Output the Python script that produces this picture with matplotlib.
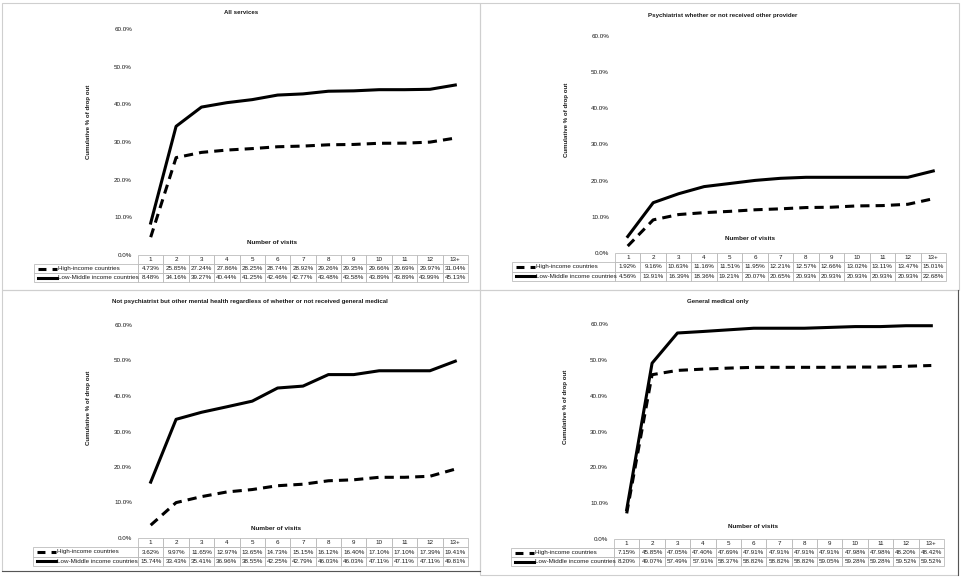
import matplotlib
matplotlib.use('Agg')
import matplotlib.pyplot as plt
from matplotlib.patches import Rectangle

plt.rcParams['font.family'] = ['Liberation Sans', 'DejaVu Sans']

W, H = 963, 578

visits = ['1', '2', '3', '4', '5', '6', '7', '8', '9', '10', '11', '12', '13+']
series_names = ['High-income countries', 'Low-Middle income countries']
yticks = [0, 10, 20, 30, 40, 50, 60]

# cumulative % of drop out
all_high = [4.73, 25.85, 27.24, 27.86, 28.25, 28.74, 28.92, 29.26, 29.35, 29.66, 29.69, 29.97, 31.04]
all_low = [8.48, 34.16, 39.27, 40.44, 41.25, 42.46, 42.77, 43.48, 43.58, 43.89, 43.89, 43.99, 45.13]
psy_high = [1.92, 9.16, 10.63, 11.16, 11.51, 11.95, 12.21, 12.57, 12.66, 13.02, 13.11, 13.47, 15.01]
psy_low = [4.56, 13.91, 16.39, 18.36, 19.21, 20.07, 20.65, 20.93, 20.93, 20.93, 20.93, 20.93, 22.68]
oth_high = [3.62, 9.97, 11.65, 12.97, 13.65, 14.73, 15.15, 16.12, 16.40, 17.10, 17.10, 17.39, 19.41]
oth_low = [15.74, 33.43, 35.41, 36.96, 38.55, 42.25, 42.79, 46.03, 46.03, 47.11, 47.11, 47.11, 49.81]
gen_high = [7.15, 45.85, 47.05, 47.40, 47.69, 47.91, 47.91, 47.91, 47.91, 47.98, 47.98, 48.20, 48.42]
gen_low = [8.20, 49.07, 57.49, 57.91, 58.37, 58.82, 58.82, 58.82, 59.05, 59.28, 59.28, 59.52, 59.52]

titles = ['All services',
          'Psychiatrist whether or not received other provider',
          'Not psychiatrist but other mental health regardless of whether or not received general medical',
          'General medical only']

TXT = '#1a1a1a'
GRID = '#bdbdbd'
FS = 4.5

fig = plt.figure(figsize=(W / 100, H / 100), dpi=100)


def fx(px):
    return px / W


def fy(py):
    return 1 - py / H


# panel frames (pixel boxes)
for (x0, y0, x1, y1) in [(2, 3, 480, 290), (480, 3, 959, 290), (2, 290, 480, 571), (480, 290, 958, 575)]:
    fig.add_artist(Rectangle((fx(x0), fy(y1)), fx(x1 - x0), (y1 - y0) / H, transform=fig.transFigure,
                             fill=False, edgecolor='#cfcfcf', linewidth=0.8))
fig.add_artist(plt.Line2D([fx(2), fx(480)], [fy(571), fy(571)], transform=fig.transFigure, color='#555555', lw=0.8))
fig.add_artist(plt.Line2D([fx(958), fx(958)], [fy(290), fy(575)], transform=fig.transFigure, color='#555555', lw=0.8))


def panel(g, title, high, low):
    Lx, Dx, Ex, Ty, By, Tb = g['box']
    ax = fig.add_axes([fx(Dx), fy(By), fx(Ex - Dx), (By - Ty) / H])
    x = list(range(len(visits)))
    ax.plot(x, high, color='black', lw=2.2, dashes=(3, 2), solid_capstyle='butt')
    ax.plot(x, low, color='black', lw=2.2)
    ax.set_xlim(-0.5, len(visits) - 0.5)
    ax.set_ylim(0, 60)
    ax.set_xticks([])
    ax.set_yticks(yticks)
    ax.set_yticklabels([f'{v:.1f}%' for v in yticks], fontsize=FS, color=TXT)
    ax.tick_params(axis='y', length=0, pad=4.3)
    for s in ax.spines.values():
        s.set_visible(False)
    ax.patch.set_alpha(0)

    def axx(px):
        return (px - Dx) / (Ex - Dx)

    def axy(py):
        return (By - py) / (By - Ty)

    # data table under the plot
    n = len(visits)
    rh = (Tb - By) / 3
    rows = [visits, [f'{v:.2f}%' for v in high], [f'{v:.2f}%' for v in low]]
    for r, cells in enumerate(rows):
        y_top = axy(By + rh * r)
        y_bot = axy(By + rh * (r + 1))
        for j, txt in enumerate(cells):
            ax.add_patch(Rectangle((j / n, y_bot), 1 / n, y_top - y_bot, transform=ax.transAxes,
                                   fill=False, edgecolor=GRID, lw=0.6, clip_on=False))
            ax.text((j + 0.5) / n, (y_top + y_bot) / 2, txt, transform=ax.transAxes, fontsize=FS,
                    color=TXT, ha='center', va='center')
        if r > 0:
            ax.add_patch(Rectangle((axx(Lx), y_bot), -axx(Lx), y_top - y_bot, transform=ax.transAxes,
                                   fill=False, edgecolor=GRID, lw=0.6, clip_on=False))
            yc = (y_top + y_bot) / 2
            ax.text(axx(Lx + 24), yc, series_names[r - 1], transform=ax.transAxes, fontsize=FS,
                    color=TXT, va='center', ha='left')
            if r == 1:
                ax.plot([axx(Lx + 4), axx(Lx + 23)], [yc, yc], transform=ax.transAxes, clip_on=False,
                        color='black', lw=2.2, dashes=(2.6, 2.0))
            else:
                ax.plot([axx(Lx + 4), axx(Lx + 23)], [yc, yc], transform=ax.transAxes, clip_on=False,
                        color='black', lw=2.2)

    tx, ty = g['title']
    fig.text(fx(tx), fy(ty), title, fontsize=4.4, fontweight='bold', ha='center', va='center', color=TXT)
    xx, xy = g['xlab']
    fig.text(fx(xx), fy(xy), 'Number of visits', fontsize=4.6, fontweight='bold', ha='center', va='center', color=TXT)
    yx, yy = g['ylab']
    fig.text(fx(yx), fy(yy), 'Cumulative % of drop out', fontsize=4.4, fontweight='bold', ha='center', va='center',
             rotation=90, color=TXT)


layouts = [
    dict(box=(34, 138, 468, 29, 255, 282), title=(241, 13), xlab=(272, 243), ylab=(88, 122)),
    dict(box=(512, 615, 946, 36, 253, 281), title=(723, 15), xlab=(750, 239), ylab=(566, 120)),
    dict(box=(33, 138, 468, 325, 538, 566), title=(250, 302), xlab=(276, 529), ylab=(88, 408)),
    dict(box=(511, 614, 944, 324, 539, 566), title=(718, 301), xlab=(753, 527), ylab=(565, 407)),
]
data = [(all_high, all_low), (psy_high, psy_low), (oth_high, oth_low), (gen_high, gen_low)]

for g, t, (h, l) in zip(layouts, titles, data):
    panel(g, t, h, l)

fig.savefig('out.png', dpi=100, facecolor='white')
